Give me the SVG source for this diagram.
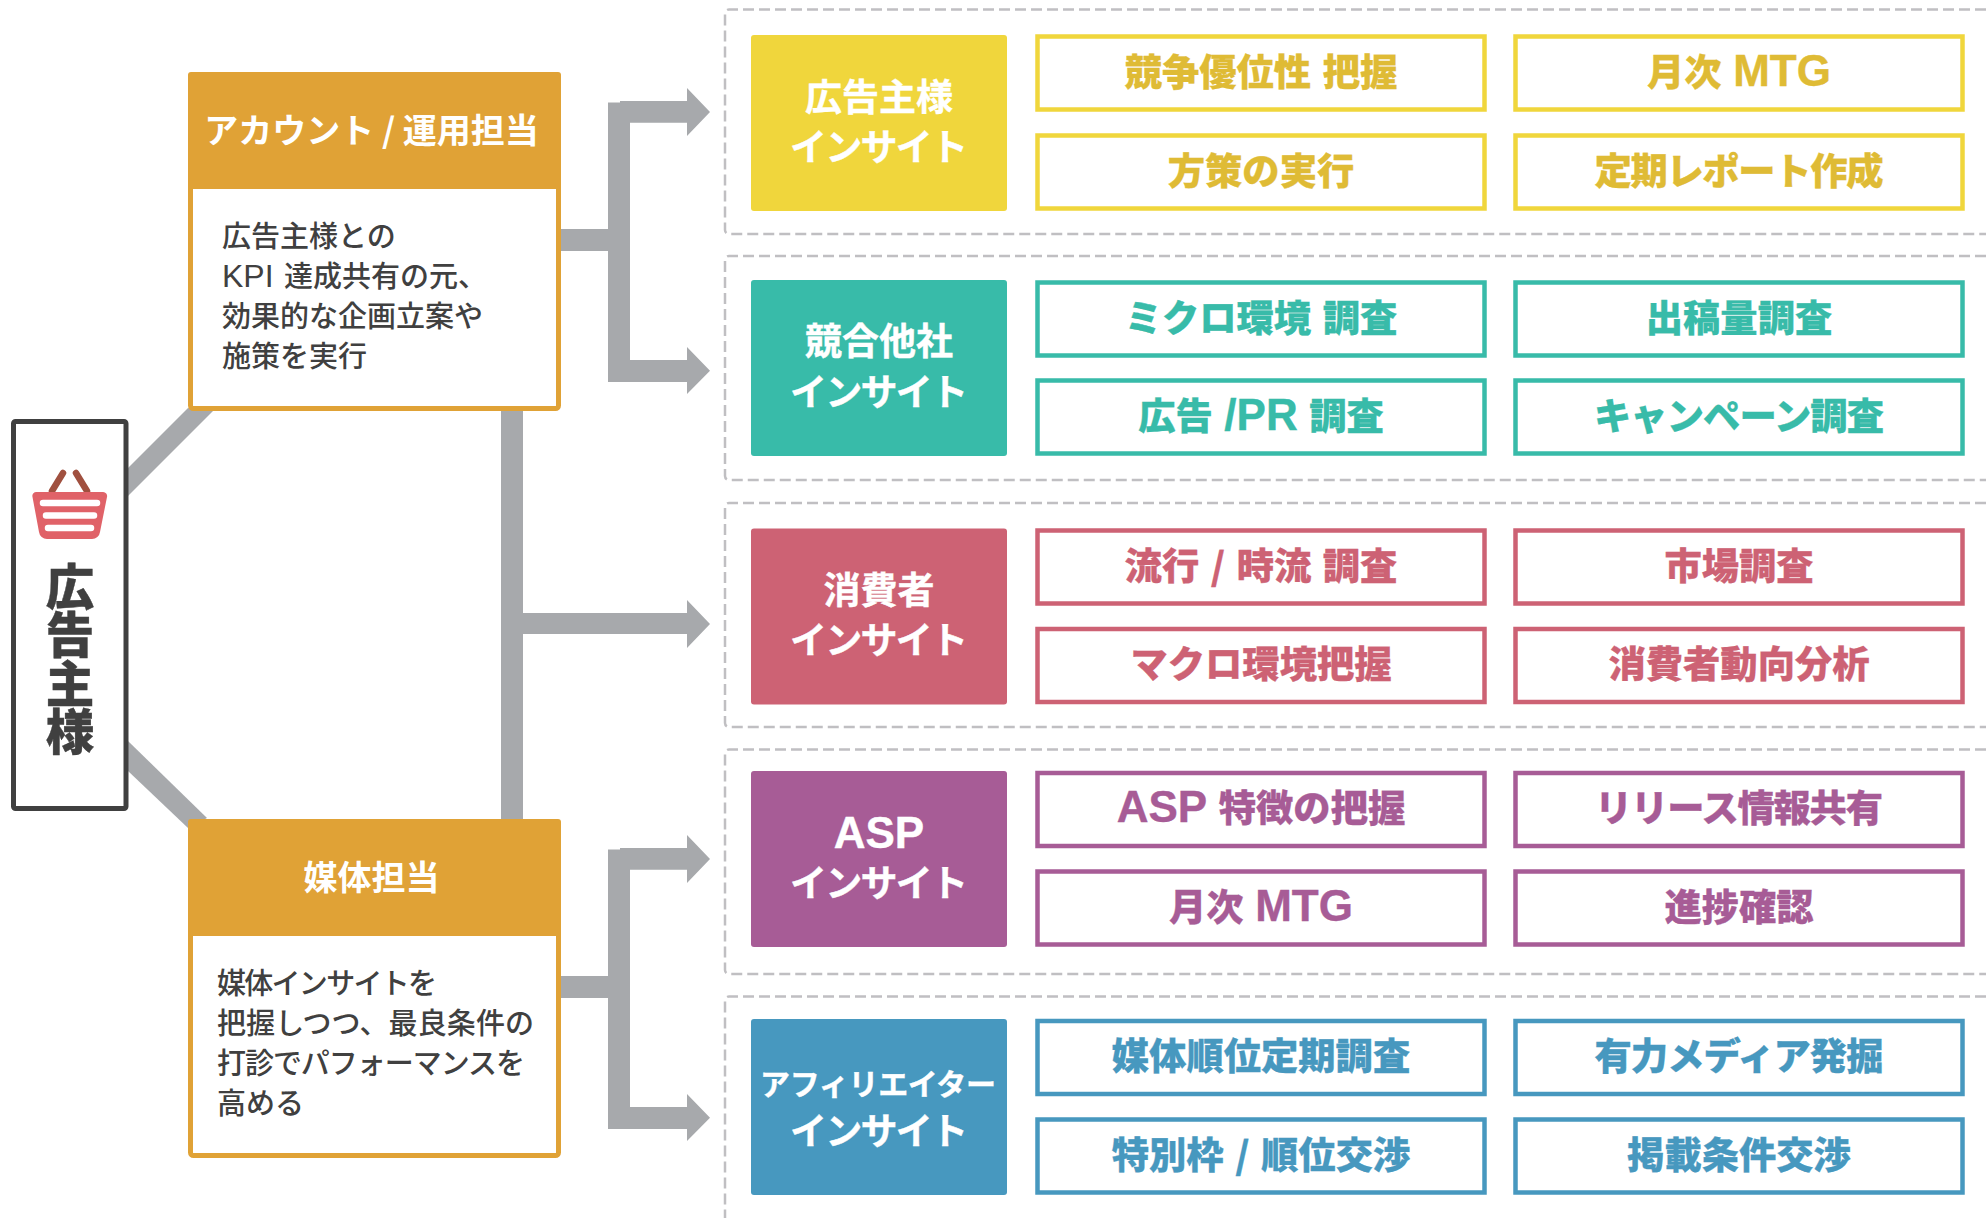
<svg xmlns="http://www.w3.org/2000/svg" width="1986" height="1218" viewBox="0 0 1986 1218">
<defs>
<style>
text{font-family:"Noto Sans CJK JP","Noto Sans",sans-serif}
.lat{font-family:"Liberation Sans",Arial,sans-serif;font-weight:700;font-size:44px;stroke-width:.4px}
.conn{fill:#a7a9ac}
.dash{fill:none;stroke:#c0bfc2;stroke-width:2.5;stroke-dasharray:11 5}
.role{fill:#fff;stroke:#e0a236;stroke-width:5}
.head{fill:#e0a236}
.ht{fill:#fff;font-size:34px;font-weight:700;text-anchor:middle}
.bt{fill:#404040;font-size:29px;font-weight:500}
.tt{fill:#fff;stroke:#fff;stroke-width:.4px;font-size:37px;font-weight:700;text-anchor:middle}
.ct{font-size:37.3px;font-weight:900;text-anchor:middle;word-spacing:3px;stroke-width:.3px}
.cl{fill:#404040;font-size:48.5px;font-weight:900;writing-mode:vertical-rl;stroke:#404040;stroke-width:.4px}
.cell{fill:#fff;stroke-width:4.5}
.y .cell{stroke:#f0d63c}.y .tile{fill:#f0d63c}.y .ct{fill:#dfbb35;stroke:#dfbb35}
.g .cell{stroke:#38bba9}.g .tile{fill:#38bba9}.g .ct{fill:#38bba9;stroke:#38bba9}
.p .cell{stroke:#cd6274}.p .tile{fill:#cd6274}.p .ct{fill:#cd6274;stroke:#cd6274}
.v .cell{stroke:#a75c96}.v .tile{fill:#a75c96}.v .ct{fill:#a75c96;stroke:#a75c96}
.b .cell{stroke:#4798bf}.b .tile{fill:#4798bf}.b .ct{fill:#4798bf;stroke:#4798bf}
</style>
</defs>
<rect width="1986" height="1218" fill="#fff"/>
<g id="panels">
<path class="dash" d="M1986,9.500H729a4,4 0 0 0-4,4V230a4,4 0 0 0 4,4H1986"/>
<path class="dash" d="M1986,256H729a4,4 0 0 0-4,4V476a4,4 0 0 0 4,4H1986"/>
<path class="dash" d="M1986,503H729a4,4 0 0 0-4,4V723a4,4 0 0 0 4,4H1986"/>
<path class="dash" d="M1986,749.500H729a4,4 0 0 0-4,4V970a4,4 0 0 0 4,4H1986"/>
<path class="dash" d="M1986,996.500H729a4,4 0 0 0-4,4V1218"/>
</g>
<g id="connectors" class="conn">
<polygon points="128,468 188,408 213,411 128,496"/>
<polygon points="128,741 207,818 188,828 128,771"/>
<path d="M561,229H608V102.500H620V101H687V88L710,112L687,136V122.700H630V360H687V347L710,370.700L687,394V382H608V251H561Z"/>
<path d="M501,411H523V613H687V600L710,624L687,648V634H523V819H501Z"/>
<path d="M561,976H608V849.500H620V848H687V835L710,859L687,883V869.700H630V1107H687V1094L710,1117.700L687,1141V1129H608V998H561Z"/>
</g>
<g id="client">
<rect x="13.500" y="421.500" width="112.500" height="387" rx="2" fill="#fff" stroke="#404040" stroke-width="5"/>
<g id="basket">
<path d="M52,491L63,473M87,491L76,473" fill="none" stroke="#a0503f" stroke-width="6.500" stroke-linecap="round"/>
<path d="M37,492H103a4,4 0 0 1 4,5L100,532a8,8 0 0 1-8,7H47a8,8 0 0 1-8-7L32.500,497a4,4 0 0 1 4.500-5Z" fill="#e06268"/>
<path d="M43,503H97M46,515.500H94M48,528H91" fill="none" stroke="#fff" stroke-width="6.500" stroke-linecap="round"/>
</g>
<text class="cl" x="70" y="562">広告主様</text>
</g>
<g id="role-account">
<rect class="role" x="190.500" y="74.500" width="368" height="334" rx="3"/>
<path class="head" d="M191,72H558a3,3 0 0 1 3,3V189H188V75a3,3 0 0 1 3-3Z"/>
<text class="ht" x="371.500" y="143">アカウント / 運用担当</text>
<text class="bt" x="222" y="247">広告主様との</text>
<text class="bt" x="222" y="287" style="word-spacing:4px"><tspan style="font-family:'Liberation Sans',Arial,sans-serif;font-size:32px;font-weight:400">KPI</tspan> 達成共有の元、</text>
<text class="bt" x="222" y="327">効果的な企画立案や</text>
<text class="bt" x="222" y="367">施策を実行</text>
</g>
<g id="role-media">
<rect class="role" x="190.500" y="821.500" width="368" height="334" rx="3"/>
<path class="head" d="M191,819H558a3,3 0 0 1 3,3V936H188V822a3,3 0 0 1 3-3Z"/>
<text class="ht" x="371.500" y="890">媒体担当</text>
<text class="bt" x="217" y="994" textLength="220">媒体インサイトを</text>
<text class="bt" x="217" y="1034" textLength="317">把握しつつ、最良条件の</text>
<text class="bt" x="217" y="1074" textLength="308">打診でパフォーマンスを</text>
<text class="bt" x="217" y="1114">高める</text>
</g>
<g id="row-advertiser" class="y">
<rect class="tile" x="751" y="35" width="256" height="176" rx="3"/>
<text class="tt" x="879" y="111">広告主様</text>
<text class="tt" x="879" y="161" textLength="178">インサイト</text>
<g id="c11"><rect class="cell" x="1037.500" y="36.500" width="447" height="73"/><text class="ct" x="1261" y="86">競争優位性 把握</text></g>
<g id="c12"><rect class="cell" x="1515.500" y="36.500" width="447" height="73"/><text class="ct" x="1739" y="86">月次 <tspan class="lat">MTG</tspan></text></g>
<g id="c13"><rect class="cell" x="1037.500" y="135.500" width="447" height="73"/><text class="ct" x="1261" y="185">方策の実行</text></g>
<g id="c14"><rect class="cell" x="1515.500" y="135.500" width="447" height="73"/><text class="ct" x="1739" y="185" textLength="289">定期レポート作成</text></g>
</g>
<g id="row-competitor" class="g">
<rect class="tile" x="751" y="280" width="256" height="176" rx="3"/>
<text class="tt" x="879" y="355">競合他社</text>
<text class="tt" x="879" y="406" textLength="178">インサイト</text>
<g id="c21"><rect class="cell" x="1037.500" y="282.500" width="447" height="73"/><text class="ct" x="1261" y="332">ミクロ環境 調査</text></g>
<g id="c22"><rect class="cell" x="1515.500" y="282.500" width="447" height="73"/><text class="ct" x="1739" y="332">出稿量調査</text></g>
<g id="c23"><rect class="cell" x="1037.500" y="380.500" width="447" height="73"/><text class="ct" x="1261" y="430">広告 <tspan class="lat">/PR</tspan> 調査</text></g>
<g id="c24"><rect class="cell" x="1515.500" y="380.500" width="447" height="73"/><text class="ct" x="1739" y="430" textLength="290">キャンペーン調査</text></g>
</g>
<g id="row-consumer" class="p">
<rect class="tile" x="751" y="528.500" width="256" height="176" rx="3"/>
<text class="tt" x="879" y="604">消費者</text>
<text class="tt" x="879" y="654" textLength="178">インサイト</text>
<g id="c31"><rect class="cell" x="1037.500" y="530.500" width="447" height="73"/><text class="ct" x="1261" y="580">流行 / 時流 調査</text></g>
<g id="c32"><rect class="cell" x="1515.500" y="530.500" width="447" height="73"/><text class="ct" x="1739" y="580">市場調査</text></g>
<g id="c33"><rect class="cell" x="1037.500" y="629" width="447" height="73"/><text class="ct" x="1261" y="678">マクロ環境把握</text></g>
<g id="c34"><rect class="cell" x="1515.500" y="629" width="447" height="73"/><text class="ct" x="1739" y="678">消費者動向分析</text></g>
</g>
<g id="row-asp" class="v">
<rect class="tile" x="751" y="771" width="256" height="176" rx="3"/>
<text class="tt" x="879" y="848" style="font-family:'Liberation Sans',Arial,sans-serif;font-size:44px">ASP</text>
<text class="tt" x="879" y="897" textLength="178">インサイト</text>
<g id="c41"><rect class="cell" x="1037.500" y="773" width="447" height="73"/><text class="ct" x="1261" y="822"><tspan class="lat">ASP</tspan> 特徴の把握</text></g>
<g id="c42"><rect class="cell" x="1515.500" y="773" width="447" height="73"/><text class="ct" x="1739" y="822" textLength="288">リリース情報共有</text></g>
<g id="c43"><rect class="cell" x="1037.500" y="871.500" width="447" height="73"/><text class="ct" x="1261" y="921">月次 <tspan class="lat">MTG</tspan></text></g>
<g id="c44"><rect class="cell" x="1515.500" y="871.500" width="447" height="73"/><text class="ct" x="1739" y="921">進捗確認</text></g>
</g>
<g id="row-affiliate" class="b">
<rect class="tile" x="751" y="1019" width="256" height="176" rx="3"/>
<text class="tt" x="878" y="1095" textLength="236" style="font-size:30px">アフィリエイター</text>
<text class="tt" x="879" y="1145" textLength="178">インサイト</text>
<g id="c51"><rect class="cell" x="1037.500" y="1021" width="447" height="73"/><text class="ct" x="1261" y="1070">媒体順位定期調査</text></g>
<g id="c52"><rect class="cell" x="1515.500" y="1021" width="447" height="73"/><text class="ct" x="1739" y="1070" textLength="289">有力メディア発掘</text></g>
<g id="c53"><rect class="cell" x="1037.500" y="1119.500" width="447" height="73"/><text class="ct" x="1261" y="1169">特別枠 / 順位交渉</text></g>
<g id="c54"><rect class="cell" x="1515.500" y="1119.500" width="447" height="73"/><text class="ct" x="1739" y="1169">掲載条件交渉</text></g>
</g>
</svg>
